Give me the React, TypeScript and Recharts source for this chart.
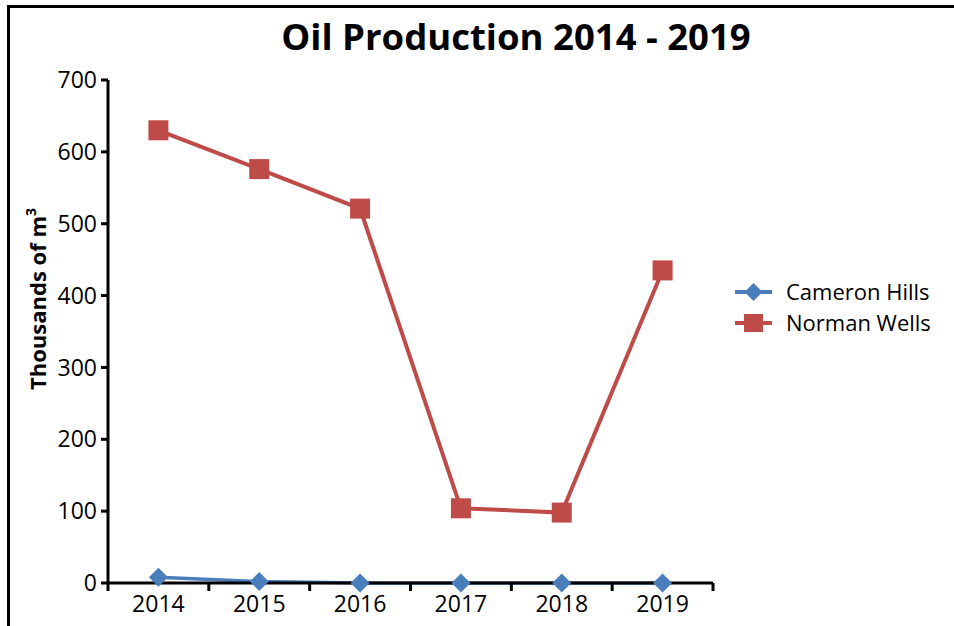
import React from 'react';
import { LineChart, Line, XAxis, YAxis, Legend } from 'recharts';

const years = ['2014', '2015', '2016', '2017', '2018', '2019'];
const cameronHills = [8, 2, 0, 0, 0, 0];
const normanWells = [630, 576, 521, 104, 98, 435];
const yTicks = [0, 100, 200, 300, 400, 500, 600, 700];

const data = years.map((year, i) => ({ year, cameron: cameronHills[i], norman: normanWells[i] }));

const FONT = '"Open Sans", sans-serif';
const BLUE = '#4a7ebb';
const RED = '#be4b48';
const W = 954;
const H = 626;
const MARGIN = { top: 80, right: 241, bottom: 0, left: 48 };
const X_AXIS_H = 43;
const Y_AXIS_W = 60;
const BAND = (W - MARGIN.left - Y_AXIS_W - MARGIN.right) / years.length;

const Diamond = (props: any) => {
    const { cx, cy, index } = props;
    const r = 9.5;
    return (
        <polygon
            key={`cam-${index}`}
            points={`${cx},${cy - r} ${cx + r},${cy} ${cx},${cy + r} ${cx - r},${cy}`}
            fill={BLUE}
        />
    );
};

const Square = (props: any) => {
    const { cx, cy, index } = props;
    return <rect key={`nor-${index}`} x={cx - 10} y={cy - 10} width={20} height={20} fill={RED} />;
};

const XTick = (props: any) => {
    const { x, payload, index } = props;
    const axisY = H - X_AXIS_H;
    return (
        <g>
            <line x1={x - BAND / 2} x2={x - BAND / 2} y1={axisY} y2={axisY + 8} stroke="#000" strokeWidth={3} />
            {index === years.length - 1 && (
                <line x1={x + BAND / 2} x2={x + BAND / 2} y1={axisY} y2={axisY + 8} stroke="#000" strokeWidth={3} />
            )}
            <text x={x} y={axisY + 29} textAnchor="middle" fontSize={23} fontFamily={FONT} fill="#000">
                {payload.value}
            </text>
        </g>
    );
};

const YLabel = () => (
    <text transform="rotate(-90)" x={-299} y={46} textAnchor="middle" fontFamily={FONT} fontWeight={700} fontSize={22} fill="#000">
        Thousands of m<tspan dy={-10} fontSize={14}>3</tspan>
    </text>
);

const LegendContent = (props: any) => {
    const { payload } = props;
    return (
        <div style={{ fontFamily: FONT, fontSize: 22, color: '#000' }}>
            {(payload || []).map((entry: any) => (
                <div key={entry.value} style={{ display: 'flex', alignItems: 'center', height: 31 }}>
                    <svg width={51} height={22} style={{ display: 'block' }}>
                        <line x1={0} x2={37} y1={11} y2={11} stroke={entry.color} strokeWidth={4} />
                        {entry.dataKey === 'cameron' ? (
                            <polygon points="18.5,2 27.5,11 18.5,20 9.5,11" fill={BLUE} />
                        ) : (
                            <rect x={9} y={2} width={19} height={18} fill={RED} />
                        )}
                    </svg>
                    <span style={{ lineHeight: '31px' }}>{entry.value}</span>
                </div>
            ))}
        </div>
    );
};

export default function App() {
    return (
        <div style={{ position: 'absolute', left: 0, top: 0, width: W, height: H, overflow: 'hidden', background: '#fff' }}>
            <div
                style={{
                    position: 'absolute',
                    left: 7,
                    top: 5,
                    width: W + 20,
                    height: H + 20,
                    borderLeft: '3px solid #000',
                    borderTop: '3px solid #000',
                }}
            />
            <div
                style={{
                    position: 'absolute',
                    left: 0,
                    top: 18,
                    width: 1032,
                    textAlign: 'center',
                    fontFamily: FONT,
                    fontWeight: 700,
                    fontSize: 36.5,
                    lineHeight: '36px',
                    color: '#000',
                }}
            >
                Oil Production 2014 - 2019
            </div>
            <div style={{ position: 'absolute', left: 0, top: 0 }}>
                <LineChart width={W} height={H} data={data} margin={MARGIN}>
                    <XAxis
                        dataKey="year"
                        scale="band"
                        height={X_AXIS_H}
                        axisLine={{ stroke: '#000', strokeWidth: 3 }}
                        tickLine={false}
                        tickSize={0}
                        tick={<XTick />}
                        interval={0}
                    />
                    <YAxis
                        width={Y_AXIS_W}
                        domain={[0, 700]}
                        ticks={yTicks}
                        interval={0}
                        axisLine={{ stroke: '#000', strokeWidth: 3 }}
                        tickLine={{ stroke: '#000', strokeWidth: 3 }}
                        tickSize={7}
                        tickMargin={4}
                        tick={{ fill: '#000', fontSize: 23, fontFamily: FONT }}
                        label={<YLabel />}
                    />
                    <Legend
                        layout="horizontal"
                        align="center"
                        verticalAlign="middle"
                        content={<LegendContent />}
                        wrapperStyle={{ left: 735, top: 276, width: 215 }}
                    />
                    <Line
                        dataKey="cameron"
                        name="Cameron Hills"
                        stroke={BLUE}
                        strokeWidth={3.5}
                        dot={Diamond}
                        activeDot={false}
                        isAnimationActive={false}
                    />
                    <Line
                        dataKey="norman"
                        name="Norman Wells"
                        stroke={RED}
                        strokeWidth={4}
                        dot={Square}
                        activeDot={false}
                        isAnimationActive={false}
                    />
                </LineChart>
            </div>
        </div>
    );
}
